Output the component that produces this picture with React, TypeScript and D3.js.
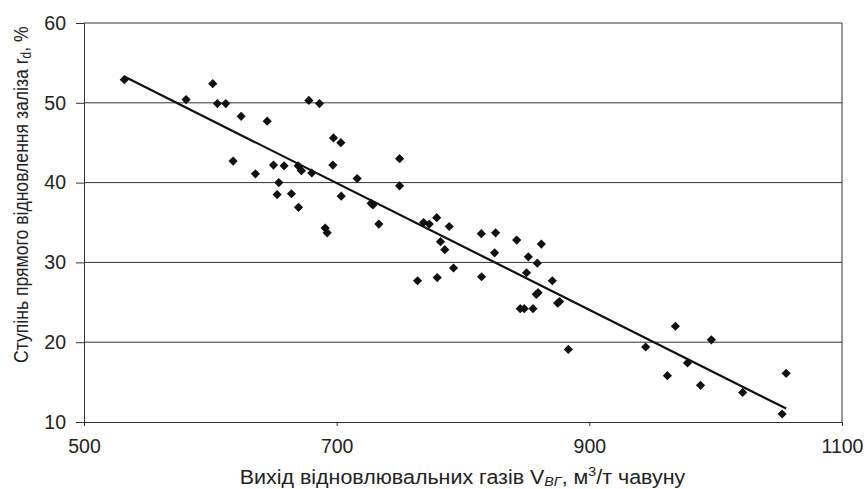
import { useRef, useEffect } from "react";
import * as d3 from "d3";

// Вихід відновлювальних газів, м3/т чавуну
const gasOutput = [
  531.9, 580.8, 601.9, 605.6, 612.2, 624.4, 645, 678, 686.4, 697.5,
  703.3, 618, 635.7, 650, 658.4, 669.5, 672.1, 680.3, 697, 654.2,
  652.9, 664.2, 669.8, 690.9, 692.5, 703.6, 716.2, 727.3, 728.7, 733.4,
  749.8, 749.8, 768.8, 773.3, 779.2, 789.1, 782.2, 785.6, 792.5, 764,
  779.6, 814.5, 825.8, 825, 814.7, 842.5, 862, 851.7, 858.8, 850.3,
  870.7, 858, 859.4, 845.3, 848.5, 855.4, 874.9, 876.5, 883.4, 944.6,
  968.1, 996.6, 977.7, 961.8, 988, 1021.4, 1055.8, 1052.6,
];

// Ступінь прямого відновлення заліза, %
const directReduction = [
  52.9, 50.4, 52.4, 49.9, 49.9, 48.3, 47.7, 50.3, 49.9, 45.6,
  45.0, 42.7, 41.1, 42.2, 42.1, 42.1, 41.5, 41.2, 42.2, 40.0,
  38.5, 38.6, 36.9, 34.3, 33.7, 38.3, 40.5, 37.4, 37.2, 34.8,
  43.0, 39.6, 35.0, 34.8, 35.6, 34.5, 32.6, 31.6, 29.3, 27.7,
  28.1, 33.6, 33.7, 31.2, 28.2, 32.8, 32.3, 30.7, 29.9, 28.7,
  27.7, 26.0, 26.2, 24.2, 24.2, 24.2, 24.9, 25.1, 19.1, 19.4,
  22.0, 20.3, 17.4, 15.8, 14.6, 13.7, 16.1, 11.0,
];

const xTicks = [500, 700, 900, 1100];
const yTicks = [10, 20, 30, 40, 50, 60];

const W = 865;
const H = 489;
const margin = { top: 23, right: 23, bottom: 67, left: 84 };
const FONT = "'Liberation Sans', Arial, sans-serif";

export default function App() {
  const svgRef = useRef<SVGSVGElement>(null);

  useEffect(() => {
    const svg = d3.select(svgRef.current);
    svg.selectAll("*").remove();

    const x = d3.scaleLinear().domain([500, 1100]).range([margin.left, W - margin.right]);
    const y = d3.scaleLinear().domain([10, 60]).range([H - margin.bottom, margin.top]);

    const points = gasOutput.map((v, i) => ({ x: v, y: directReduction[i] }));

    // horizontal gridlines
    svg.append("g")
      .selectAll("line")
      .data(yTicks.slice(1))
      .enter()
      .append("line")
      .attr("x1", x(500))
      .attr("x2", x(1100))
      .attr("y1", (d) => y(d))
      .attr("y2", (d) => y(d))
      .attr("stroke", "#333")
      .attr("stroke-width", 1);

    // right border
    svg.append("line")
      .attr("x1", x(1100)).attr("x2", x(1100))
      .attr("y1", y(60)).attr("y2", y(10))
      .attr("stroke", "#333");

    // axes
    const xAxis = svg.append("g")
      .attr("transform", `translate(0,${y(10)})`)
      .call(d3.axisBottom(x).tickValues(xTicks).tickSize(4).tickPadding(13).tickFormat(d3.format("d")));
    const yAxis = svg.append("g")
      .attr("transform", `translate(${x(500)},0)`)
      .call(d3.axisLeft(y).tickValues(yTicks).tickSize(8).tickPadding(10).tickFormat(d3.format("d")));

    [xAxis, yAxis].forEach((a) => {
      a.select(".domain").attr("stroke", "#333");
      a.selectAll(".tick line").attr("stroke", "#333");
      a.selectAll("text")
        .attr("font-family", FONT)
        .attr("font-size", 19.5)
        .attr("fill", "#222");
    });

    // trend line (least squares)
    const mx = d3.mean(points, (d) => d.x)!;
    const my = d3.mean(points, (d) => d.y)!;
    const slope =
      d3.sum(points, (d) => (d.x - mx) * (d.y - my)) / d3.sum(points, (d) => (d.x - mx) ** 2);
    const icpt = my - slope * mx;
    const [x0, x1] = d3.extent(points, (d) => d.x) as [number, number];
    const line = d3.line<number>().x((d) => x(d)).y((d) => y(icpt + slope * d));
    svg.append("path")
      .attr("d", line([x0, x1]))
      .attr("fill", "none")
      .attr("stroke", "#111")
      .attr("stroke-width", 2.2);

    // markers
    const r = 4.6;
    svg.append("g")
      .selectAll("path")
      .data(points)
      .enter()
      .append("path")
      .attr("transform", (d) => `translate(${x(d.x)},${y(d.y)})`)
      .attr("d", `M0,${-r}L${r},0L0,${r}L${-r},0Z`)
      .attr("fill", "#111");

    // x title
    const xt = svg.append("text")
      .attr("transform", "translate(462.5,483.5) scale(1.1,1)")
      .attr("text-anchor", "middle")
      .attr("font-family", FONT)
      .attr("font-size", 19.5)
      .attr("fill", "#222");
    xt.append("tspan").text("Вихід відновлювальних газів V");
    xt.append("tspan").attr("font-size", 13).attr("font-style", "italic").attr("dy", 2).text("ВГ");
    xt.append("tspan").attr("dy", -2).text(", м");
    xt.append("tspan").attr("font-size", 13).attr("dy", -8).text("3");
    xt.append("tspan").attr("dy", 8).text("/т чавуну");

    // y title
    const yt = svg.append("text")
      .attr("transform", "translate(28,363) scale(1.15,1) rotate(-90)")
      .attr("text-anchor", "start")
      .attr("font-family", FONT)
      .attr("font-size", 17.6)
      .attr("fill", "#222");
    yt.append("tspan").text("Ступінь прямого відновлення заліза r");
    yt.append("tspan").attr("font-size", 12).attr("dy", 3).text("d");
    yt.append("tspan").attr("dy", -3).text(", %");
  }, []);

  return (
    <svg
      ref={svgRef}
      width={W}
      height={H}
      style={{ position: "absolute", left: 0, top: 0, background: "#fff" }}
    />
  );
}
